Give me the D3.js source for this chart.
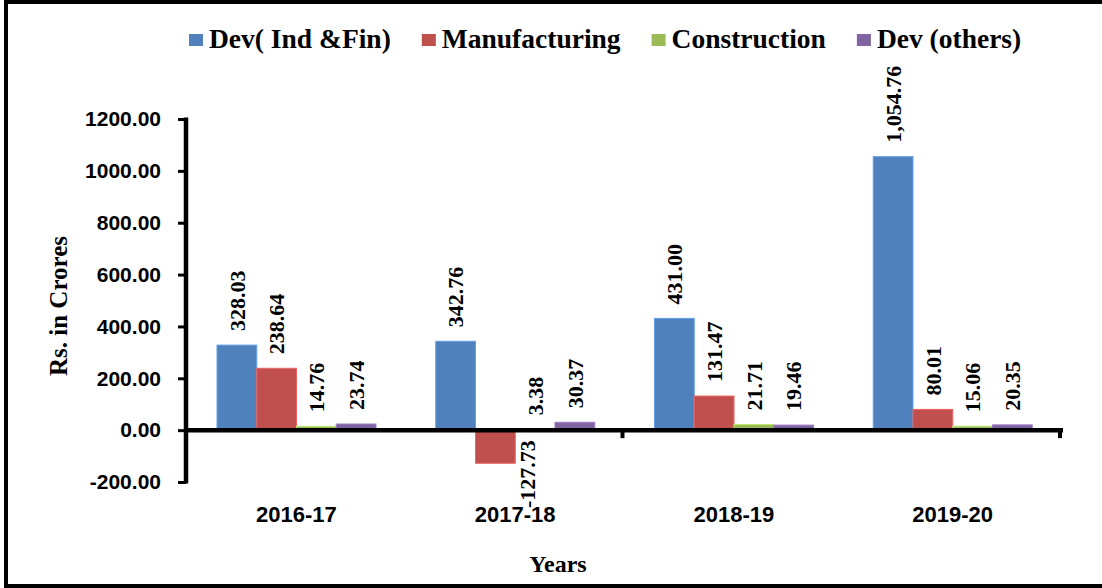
<!DOCTYPE html>
<html>
<head>
<meta charset="utf-8">
<script src="https://cdnjs.cloudflare.com/ajax/libs/d3/7.8.5/d3.min.js"></script>
<style>
  html, body { margin: 0; padding: 0; background: #fff; }
  svg { display: block; }
</style>
</head>
<body>
<div id="chart"></div>
<script>
// data
var years = ['2016-17', '2017-18', '2018-19', '2019-20'];
var seriesNames = ['Dev( Ind &Fin)', 'Manufacturing', 'Construction', 'Dev (others)'];
var devIndFin = [328.03, 342.76, 431.00, 1054.76];
var manufacturing = [238.64, -127.73, 131.47, 80.01];
var construction = [14.76, 3.38, 21.71, 15.06];
var devOthers = [23.74, 30.37, 19.46, 20.35];
var yTicks = [-200, 0, 200, 400, 600, 800, 1000, 1200];
var colors = ['#4F81BD', '#C0504D', '#9BBB59', '#8064A2'];

(function () {
    'use strict';

    var W = 1102, H = 588;
    var serif = '"Liberation Serif", "Times New Roman", serif';
    var sans = '"Liberation Sans", Arial, sans-serif';

    var series = [devIndFin, manufacturing, construction, devOthers];

    var svg = d3.select('#chart').append('svg')
        .attr('width', W).attr('height', H);

    // outer frame (right side runs off the picture)
    svg.append('rect')
        .attr('x', 6).attr('y', 2)
        .attr('width', W + 10).attr('height', 584)
        .attr('fill', 'none').attr('stroke', '#000').attr('stroke-width', 4);

    var x0 = d3.scaleBand().domain(years).range([185, 1060]);
    var x1 = d3.scaleBand().domain(d3.range(seriesNames.length)).range([32, 191]);
    var y = d3.scaleLinear().domain([-200, 1200]).range([482, 119]);

    // excel style: plain hyphen for negatives
    function hy(f) {
        return function (v) { return f(v).replace('\u2212', '-'); };
    }
    var fmt = hy(d3.format(',.2f'));

    // bars
    var groups = svg.selectAll('g.year').data(years).enter().append('g')
        .attr('class', 'year')
        .attr('transform', function (d) { return 'translate(' + x0(d) + ',0)'; });

    function rows(d, i) {
        return series.map(function (s, k) { return { k: k, v: s[i] }; });
    }

    groups.selectAll('rect').data(rows).enter().append('rect')
        .attr('x', function (d) { return x1(d.k); })
        .attr('width', x1.bandwidth())
        .attr('y', function (d) { return y(Math.max(0, d.v)); })
        .attr('height', function (d) { return Math.abs(y(d.v) - y(0)); })
        .attr('fill', function (d) { return colors[d.k]; })
        .attr('stroke', function (d) { return d3.color(colors[d.k]).brighter(0.6); })
        .attr('stroke-width', 1);

    // data labels, rotated
    groups.selectAll('text.lbl').data(rows).enter().append('text')
        .attr('class', 'lbl')
        .attr('transform', function (d) {
            var cx = x1(d.k) + x1.bandwidth() / 2;
            if (d.v < 0) {
                // excel pushed the negative one beside the bar, under the axis
                return 'translate(' + (cx + 32) + ',' + (y(0) + 10) + ') rotate(-90)';
            }
            return 'translate(' + cx + ',' + (y(d.v) - 14) + ') rotate(-90)';
        })
        .attr('dy', '0.35em')
        .attr('text-anchor', function (d) { return d.v >= 0 ? 'start' : 'end'; })
        .style('font-family', serif).style('font-weight', 'bold').style('font-size', '22px')
        .text(function (d) { return fmt(d.v); });

    // y axis
    var yAxis = svg.append('g')
        .attr('transform', 'translate(186,0)')
        .call(d3.axisLeft(y).tickValues(yTicks).tickFormat(hy(d3.format('.2f')))
            .tickSize(8).tickSizeOuter(0).tickPadding(17));
    yAxis.select('.domain').remove();
    yAxis.selectAll('line').attr('stroke', '#000').attr('stroke-width', 3);
    yAxis.selectAll('text')
        .style('font-family', sans).style('font-weight', 'bold').style('font-size', '21px')
        .attr('fill', '#000');
    svg.append('line')
        .attr('x1', 186).attr('x2', 186)
        .attr('y1', y(1200) - 1.5).attr('y2', y(-200) + 1.5)
        .attr('stroke', '#000').attr('stroke-width', 4.5);

    // x axis along zero
    svg.append('line')
        .attr('x1', 184).attr('x2', 1063)
        .attr('y1', y(0)).attr('y2', y(0))
        .attr('stroke', '#000').attr('stroke-width', 4.5);
    var bounds = [x0(years[2]), x0.range()[1]];
    svg.selectAll('line.xt').data(bounds).enter().append('line')
        .attr('class', 'xt')
        .attr('x1', function (d) { return d; }).attr('x2', function (d) { return d; })
        .attr('y1', y(0)).attr('y2', y(0) + 8)
        .attr('stroke', '#000').attr('stroke-width', 4);

    svg.selectAll('text.xl').data(years).enter().append('text')
        .attr('class', 'xl')
        .attr('x', function (d) { return x0(d) + x0.bandwidth() / 2 + 2; })
        .attr('y', 522)
        .attr('text-anchor', 'middle')
        .style('font-family', sans).style('font-weight', 'bold').style('font-size', '22px')
        .text(function (d) { return d; });

    // axis titles
    svg.append('text')
        .attr('transform', 'translate(67,306) rotate(-90)')
        .attr('text-anchor', 'middle')
        .style('font-family', serif).style('font-weight', 'bold').style('font-size', '25px')
        .text('Rs. in Crores');

    svg.append('text')
        .attr('x', 558).attr('y', 572)
        .attr('text-anchor', 'middle')
        .style('font-family', serif).style('font-weight', 'bold').style('font-size', '24px')
        .text('Years');

    // legend
    var lx = 189;
    seriesNames.forEach(function (name, k) {
        var g = svg.append('g').attr('transform', 'translate(' + lx + ',0)');
        g.append('rect').attr('x', 0).attr('y', 34).attr('width', 14).attr('height', 12)
            .attr('fill', colors[k]);
        var t = g.append('text').attr('x', 20).attr('y', 48)
            .style('font-family', serif).style('font-weight', 'bold').style('font-size', '27.5px')
            .text(name);
        lx += 20 + t.node().getComputedTextLength() + 31;
    });
})();
</script>
</body>
</html>
